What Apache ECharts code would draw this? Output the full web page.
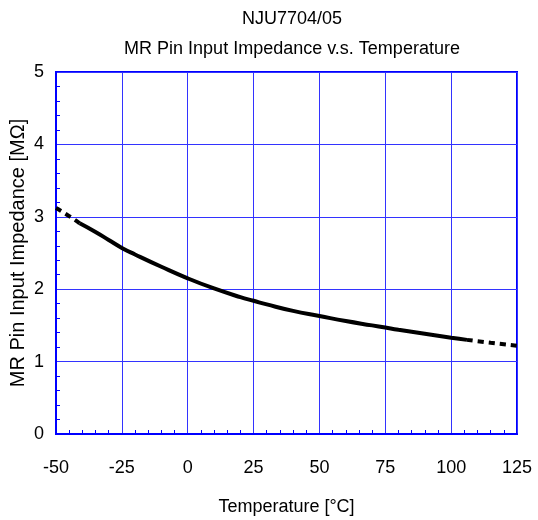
<!DOCTYPE html>
<html>
<head>
<meta charset="utf-8">
<script src="https://cdn.jsdelivr.net/npm/echarts@6/dist/echarts.min.js"></script>
<style>html,body{margin:0;padding:0;background:#fff}#c{width:538px;height:520px}</style>
</head>
<body>
<div id="c"></div>
<script>
const titleLine1 = 'NJU7704/05';
const titleLine2 = 'MR Pin Input Impedance v.s. Temperature';
const xName = 'Temperature [°C]';
const yName = 'MR Pin Input Impedance [MΩ]';

const tempLowExt = [-50, -45, -41];
const impLowExt = [3.12, 3.01, 2.91];

const tempMeasured = [-41, -35, -30, -25, -20, -10, 0, 10, 20, 25, 30, 40, 50, 60, 70, 75, 80, 90, 100, 106];
const impMeasured = [2.91, 2.79, 2.68, 2.57, 2.48, 2.31, 2.15, 2.01, 1.89, 1.84, 1.79, 1.70, 1.63, 1.56, 1.50, 1.47, 1.44, 1.385, 1.33, 1.30];

const tempHighExt = [106, 115, 125];
const impHighExt = [1.30, 1.26, 1.22];

const pairs = (xs, ys) => xs.map((x, i) => [x, ys[i]]);

const chart = echarts.init(document.getElementById('c'), null, {renderer: 'canvas'});
const font = 'Liberation Sans, Arial, sans-serif';
chart.setOption({
  animation: false,
  title: [
    {text: titleLine1, left: 287, top: 5, textAlign: 'center',
     textStyle: {fontFamily: font, fontSize: 18, fontWeight: 'normal', color: '#000'}},
    {text: titleLine2, left: 287, top: 35, textAlign: 'center',
     textStyle: {fontFamily: font, fontSize: 18, fontWeight: 'normal', color: '#000'}}
  ],
  grid: {left: 56, right: 21, top: 72, bottom: 86, containLabel: false, outerBoundsMode: 'none',
         show: true, borderColor: '#0000ff', borderWidth: 2, backgroundColor: 'transparent'},
  xAxis: {
    type: 'value', min: -50, max: 125, interval: 25,
    name: xName, nameLocation: 'middle', nameGap: 64, nameMoveOverlap: false,
    nameTextStyle: {fontFamily: font, fontSize: 18, color: '#000'},
    axisLine: {show: true, onZero: false, lineStyle: {color: '#0000ff', width: 2}},
    axisTick: {show: false, inside: true},
    minorTick: {show: true, splitNumber: 5, length: 4, lineStyle: {color: '#0000ff', width: 1}},
    axisLabel: {margin: 25, fontFamily: font, fontSize: 18, color: '#000'},
    splitLine: {show: true, lineStyle: {color: '#3333ff', width: 1}}
  },
  yAxis: {
    type: 'value', min: 0, max: 5, interval: 1,
    name: yName, nameLocation: 'middle', nameGap: 28, nameMoveOverlap: false,
    nameTextStyle: {fontFamily: font, fontSize: 20, color: '#000'},
    axisLine: {show: true, onZero: false, lineStyle: {color: '#0000ff', width: 2}},
    axisTick: {show: false, inside: true},
    minorTick: {show: true, splitNumber: 5, length: 4, lineStyle: {color: '#0000ff', width: 1}},
    axisLabel: {margin: 12, fontFamily: font, fontSize: 18, color: '#000'},
    splitLine: {show: true, lineStyle: {color: '#3333ff', width: 1}}
  },
  series: [
    {type: 'line', data: pairs(tempLowExt, impLowExt), smooth: true, showSymbol: false,
     lineStyle: {color: '#000', width: 4, type: [6, 5]}},
    {type: 'line', data: pairs(tempMeasured, impMeasured), smooth: true, showSymbol: false,
     lineStyle: {color: '#000', width: 4}},
    {type: 'line', data: pairs(tempHighExt, impHighExt), smooth: true, showSymbol: false,
     lineStyle: {color: '#000', width: 4, type: [6, 5]}}
  ]
});
</script>
</body>
</html>
